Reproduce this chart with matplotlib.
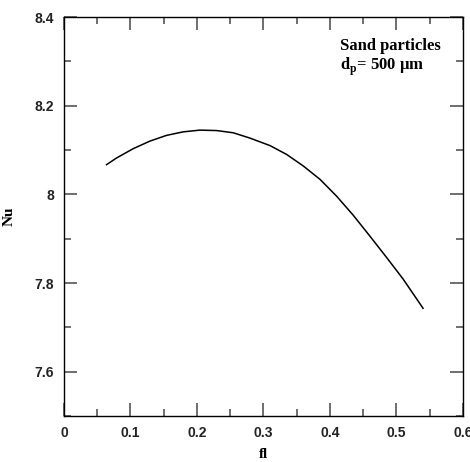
import numpy as np
import matplotlib.pyplot as plt
from matplotlib.ticker import MultipleLocator

plt.rcParams['mathtext.fontset'] = 'custom'
plt.rcParams['mathtext.rm'] = 'Liberation Serif'
plt.rcParams['mathtext.bf'] = 'Liberation Serif:bold'

# values
fl = [0.064, 0.079, 0.104, 0.129, 0.154, 0.179, 0.2045, 0.2296, 0.2546, 0.2797,
      0.31, 0.335, 0.36, 0.385, 0.41, 0.435, 0.46, 0.485, 0.51, 0.540]
nu = [8.067, 8.082, 8.103, 8.120, 8.133, 8.141, 8.145, 8.144, 8.139, 8.127,
      8.110, 8.090, 8.064, 8.034, 7.996, 7.953, 7.906, 7.858, 7.809, 7.743]

fig = plt.figure(figsize=(4.7, 4.62), dpi=100)
ax = fig.add_axes([0.136, 0.0996, 0.849, 0.8634])

ax.plot(fl, nu, color='black', lw=1.1)

ax.set_xlim(0, 0.6)
ax.set_ylim(7.5, 8.4)
ax.xaxis.set_minor_locator(MultipleLocator(0.05))
ax.yaxis.set_minor_locator(MultipleLocator(0.1))
ax.set_xticks([0, 0.1, 0.2, 0.3, 0.4, 0.5, 0.6])
ax.set_xticklabels(['0', '0.1', '0.2', '0.3', '0.4', '0.5', '0.6'])
ax.set_yticks([7.6, 7.8, 8.0, 8.2, 8.4])
ax.set_yticklabels(['7.6', '7.8', '8', '8.2', '8.4'])

ax.tick_params(which='both', direction='in', top=True, right=True,
               color='#555555', width=1.2)
ax.tick_params(which='major', length=9.5, pad=7)
ax.tick_params(which='minor', length=5)
for lab in ax.get_xticklabels() + ax.get_yticklabels():
    lab.set_fontfamily('Liberation Sans')
    lab.set_fontweight('bold')
    lab.set_fontsize(10)
    lab.set_color('#222222')
for s in ax.spines.values():
    s.set_linewidth(1.0)

ax.set_xlabel('fl', fontfamily='Liberation Serif', fontweight='bold', fontsize=11, labelpad=6)
ax.set_ylabel('Nu', fontfamily='Liberation Serif', fontweight='bold', fontsize=11, labelpad=14)

ax.text(0.415, 8.352, 'Sand particles\n' + r'd$_\mathbf{p}$= 500 μm',
        fontfamily='Liberation Serif', fontweight='bold', fontsize=12,
        va='top', ha='left', linespacing=1.1)

fig.savefig('out.png', dpi=100)
